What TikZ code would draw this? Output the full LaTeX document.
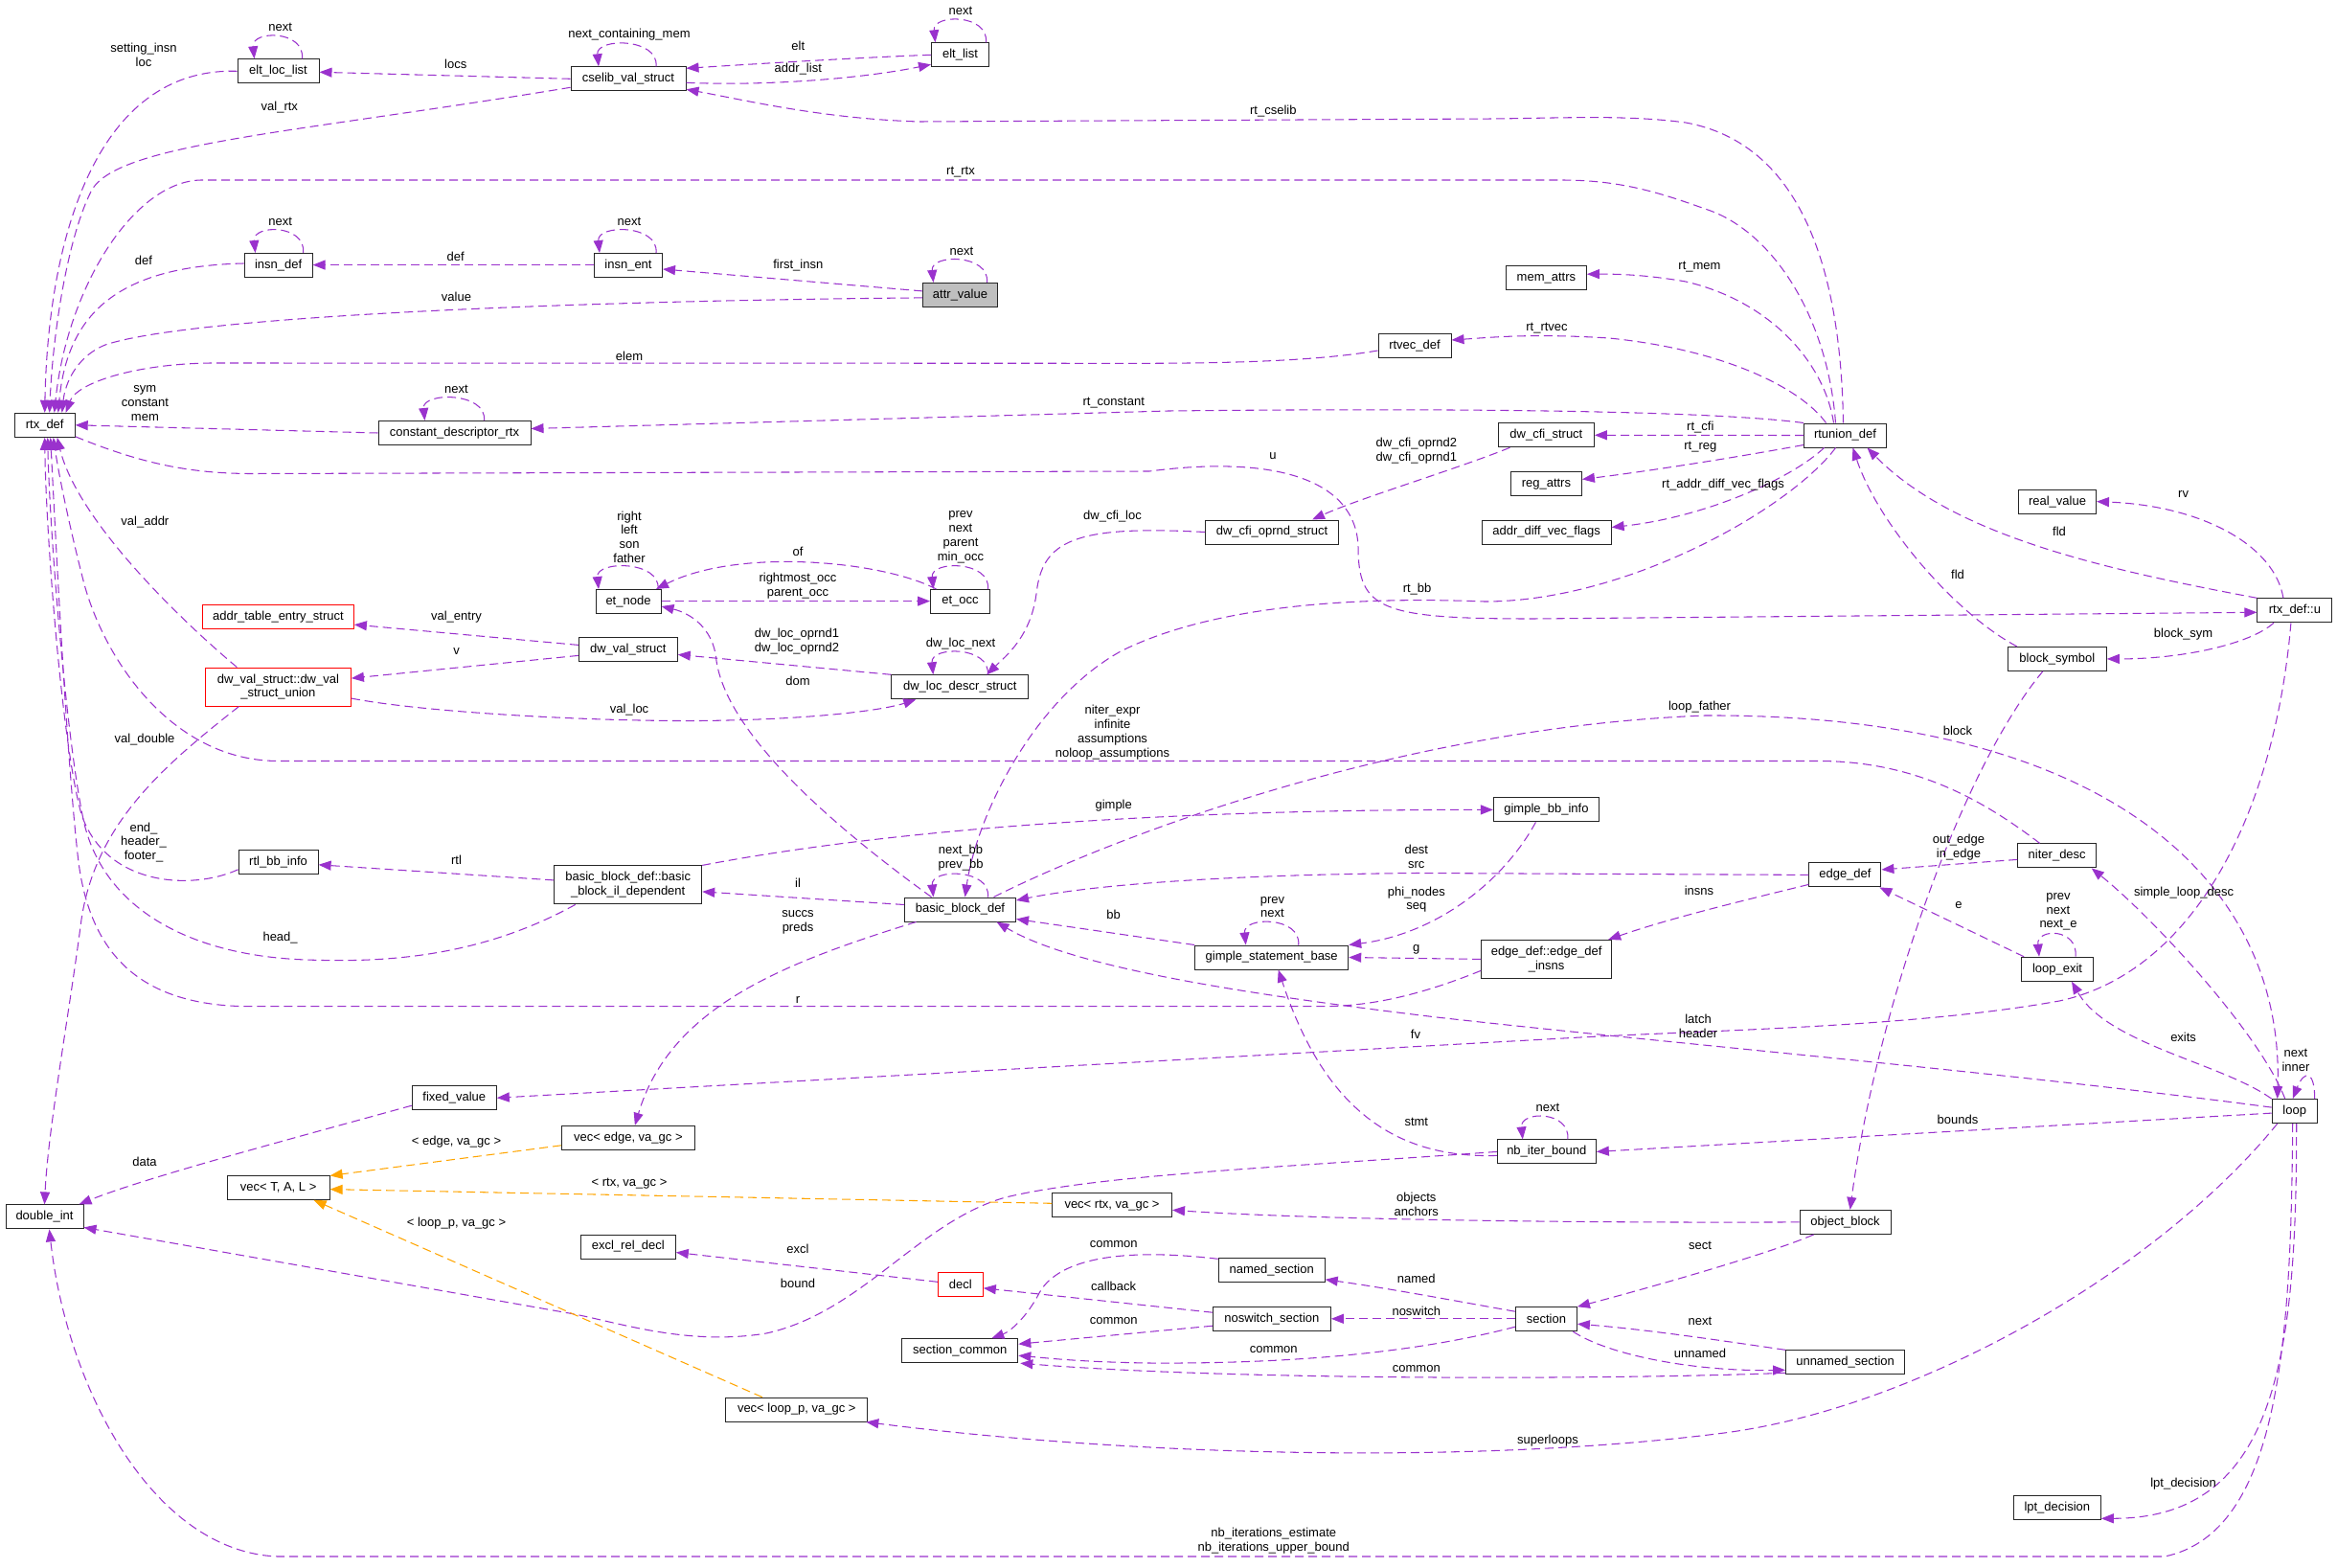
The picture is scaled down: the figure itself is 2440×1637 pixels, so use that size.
\documentclass[tikz,border=0pt]{standalone}
\usepackage{fontspec}
\setmainfont{Liberation Sans}
\usetikzlibrary{arrows.meta}
\definecolor{purp}{RGB}{154,50,205}
\definecolor{orng}{RGB}{255,165,0}
\definecolor{gfill}{RGB}{191,191,191}
\newcommand{\nf}{\fontsize{13}{14.8}\selectfont}
\tikzset{
 box/.style={draw=black!85, line width=1pt, fill=white, inner sep=0pt, minimum height=25pt, font=\nf},
 redbox/.style={box, draw=red},
 rel/.style={draw=purp, line width=1.05pt, dash pattern=on 9pt off 5pt, -{Triangle[length=13pt,width=10pt]}},
 tmpl/.style={rel, draw=orng},
 lbl/.style={inner sep=0pt, font=\nf, align=center},
}
\begin{document}
\begin{tikzpicture}[x=1pt,y=-1pt]
\path[use as bounding box, fill=white] (0,0) rectangle (2440,1637);
% nodes
\node[box,minimum width=63pt] (rtxdef) at (46.7,443.8) {rtx\_def};
\node[box,minimum width=85pt] (eltloclist) at (290.5,74.3) {elt\_loc\_list};
\node[box,minimum width=120pt] (cselib) at (656,82.3) {cselib\_val\_struct};
\node[box,minimum width=60pt] (eltlist) at (1002.5,57.3) {elt\_list};
\node[box,minimum width=71pt] (insndef) at (290.6,277) {insn\_def};
\node[box,minimum width=71pt] (insnent) at (656,277) {insn\_ent};
\node[box,minimum width=78pt,fill=gfill] (attrvalue) at (1002.5,307.9) {attr\_value};
\node[box,minimum width=84pt] (memattrs) at (1614.4,290.2) {mem\_attrs};
\node[box,minimum width=76pt] (rtvecdef) at (1477,361) {rtvec\_def};
\node[box,minimum width=159pt] (constdesc) at (474.5,452) {constant\_descriptor\_rtx};
\node[box,minimum width=100pt] (dwcfistruct) at (1614.4,454.3) {dw\_cfi\_struct};
\node[box,minimum width=74pt] (regattrs) at (1614.4,505.4) {reg\_attrs};
\node[box,minimum width=86pt] (rtunion) at (1926.5,454.5) {rtunion\_def};
\node[box,minimum width=81pt] (realvalue) at (2148,523.6) {real\_value};
\node[box,minimum width=139pt] (dwcfioprnd) at (1328,555.5) {dw\_cfi\_oprnd\_struct};
\node[box,minimum width=135pt] (addrdiff) at (1614.6,555.5) {addr\_diff\_vec\_flags};
\node[redbox,minimum width=158pt] (addrtable) at (290.4,644.1) {addr\_table\_entry\_struct};
\node[redbox,minimum width=152pt,minimum height=40pt,align=center] (dwvalunion) at (290.4,717.1) {dw\_val\_struct::dw\_val\\\_struct\_union};
\node[box,minimum width=68pt] (etnode) at (656,628) {et\_node};
\node[box,minimum width=62pt] (etocc) at (1002.5,628) {et\_occ};
\node[box,minimum width=103pt] (dwvalstruct) at (655.8,678.4) {dw\_val\_struct};
\node[box,minimum width=143pt] (dwloc) at (1002.3,717.3) {dw\_loc\_descr\_struct};
\node[box,minimum width=78pt] (rtxu) at (2395.9,637.3) {rtx\_def::u};
\node[box,minimum width=103pt] (blocksym) at (2147.8,687.9) {block\_symbol};
\node[box,minimum width=83pt] (rtlbb) at (290.6,899.8) {rtl\_bb\_info};
\node[box,minimum width=154pt,minimum height=40pt,align=center] (bbil) at (655.7,923.9) {basic\_block\_def::basic\\\_block\_il\_dependent};
\node[box,minimum width=116pt] (bbdef) at (1002.5,949.5) {basic\_block\_def};
\node[box,minimum width=110pt] (gimplebb) at (1614.4,845.4) {gimple\_bb\_info};
\node[box,minimum width=160pt] (gsb) at (1327.7,999.5) {gimple\_statement\_base};
\node[box,minimum width=136pt,minimum height=40pt,align=center] (edgeinsns) at (1614.6,1001.4) {edge\_def::edge\_def\\\_insns};
\node[box,minimum width=75pt] (edgedef) at (1926.4,913.4) {edge\_def};
\node[box,minimum width=82pt] (niterdesc) at (2147.7,893.4) {niter\_desc};
\node[box,minimum width=75pt] (loopexit) at (2148,1011.7) {loop\_exit};
\node[box,minimum width=88pt] (fixedvalue) at (474.3,1146.2) {fixed\_value};
\node[box,minimum width=107pt] (vectal) at (290.6,1239.9) {vec< T, A, L >};
\node[box,minimum width=81pt] (doubleint) at (46.5,1270.4) {double\_int};
\node[box,minimum width=139pt] (vecedge) at (655.9,1187.8) {vec< edge, va\_gc >};
\node[box,minimum width=125pt] (vecrtx) at (1161,1258.3) {vec< rtx, va\_gc >};
\node[box,minimum width=99pt] (excl) at (655.8,1301.5) {excl\_rel\_decl};
\node[redbox,minimum width=47pt] (decl) at (1002.8,1341.3) {decl};
\node[box,minimum width=121pt] (seccommon) at (1002.3,1410.2) {section\_common};
\node[box,minimum width=148pt] (veclooppp) at (831.8,1471.6) {vec< loop\_p, va\_gc >};
\node[box,minimum width=103pt] (nbiter) at (1614.8,1202.4) {nb\_iter\_bound};
\node[box,minimum width=111pt] (namedsec) at (1327.7,1326.3) {named\_section};
\node[box,minimum width=123pt] (noswitch) at (1327.9,1377.2) {noswitch\_section};
\node[box,minimum width=64pt] (section) at (1614.4,1377.2) {section};
\node[box,minimum width=47pt] (loop) at (2395.7,1160.1) {loop};
\node[box,minimum width=95pt] (objblock) at (1926.6,1275.9) {object\_block};
\node[box,minimum width=124pt] (unnamed) at (1926.6,1422.3) {unnamed\_section};
\node[box,minimum width=91pt] (lpt) at (2147.8,1574.3) {lpt\_decision};

% self loops
\draw[rel] ([xshift=25pt]eltloclist.north) .. controls +(3,-30) and +(-3,-30) .. ([xshift=-25pt]eltloclist.north);
\draw[rel] ([xshift=29pt]cselib.north) .. controls +(3,-30) and +(-3,-30) .. ([xshift=-31pt]cselib.north);
\draw[rel] ([xshift=27pt]eltlist.north) .. controls +(3,-30) and +(-3,-30) .. ([xshift=-26pt]eltlist.north);
\draw[rel] ([xshift=26pt]insndef.north) .. controls +(3,-30) and +(-3,-30) .. ([xshift=-24pt]insndef.north);
\draw[rel] ([xshift=29pt]insnent.north) .. controls +(3,-30) and +(-3,-30) .. ([xshift=-30pt]insnent.north);
\draw[rel] ([xshift=28pt]attrvalue.north) .. controls +(3,-30) and +(-3,-30) .. ([xshift=-28pt]attrvalue.north);
\draw[rel] ([xshift=31pt]constdesc.north) .. controls +(3,-30) and +(-3,-30) .. ([xshift=-31pt]constdesc.north);
\draw[rel] ([xshift=31pt]etnode.north) .. controls +(3,-30) and +(-3,-30) .. ([xshift=-31pt]etnode.north);
\draw[rel] ([xshift=29pt]etocc.north) .. controls +(3,-30) and +(-3,-30) .. ([xshift=-28pt]etocc.north);
\draw[rel] ([xshift=29pt]dwloc.north) .. controls +(3,-30) and +(-3,-30) .. ([xshift=-28pt]dwloc.north);
\draw[rel] ([xshift=29pt]bbdef.north) .. controls +(3,-30) and +(-3,-30) .. ([xshift=-28pt]bbdef.north);
\draw[rel] ([xshift=28pt]gsb.north) .. controls +(3,-30) and +(-3,-30) .. ([xshift=-27pt]gsb.north);
\draw[rel] ([xshift=22pt]nbiter.north) .. controls +(3,-30) and +(-3,-30) .. ([xshift=-25pt]nbiter.north);
\draw[rel] ([xshift=19pt]loopexit.north) .. controls +(3,-30) and +(-3,-30) .. ([xshift=-19pt]loopexit.north);
\draw[rel] ([xshift=21pt]loop.north) .. controls +(0,-30) and +(12,-30) .. ([xshift=-2pt]loop.north);

% edges into rtx_def top
\draw[rel] (eltloclist.west) .. controls (100,70) and (50,250) .. ([xshift=0pt]rtxdef.north);
\draw[rel] ([yshift=-9pt]cselib.west) .. controls (300,140) and (120,150) .. (95,200) .. controls (70,250) and (55,350) .. ([xshift=5pt]rtxdef.north);
\draw[rel] ([xshift=-10pt]rtunion.north) .. controls (1908,330) and (1850,240) .. (1780,218) .. controls (1730,200) and (1690,188) .. (1630,188) -- (210,188) .. controls (140,189) and (70,300) .. ([xshift=10pt]rtxdef.north);
\draw[rel] ([yshift=2pt]insndef.west) .. controls (120,278) and (70,330) .. ([xshift=14pt]rtxdef.north);
\draw[rel] ([yshift=-3pt]attrvalue.west) .. controls (600,314) and (200,330) .. (110,360) .. controls (80,372) and (68,400) .. ([xshift=18pt]rtxdef.north);
\draw[rel] ([yshift=-5pt]rtvecdef.west) .. controls (1380,376) and (1300,379) .. (1200,379.3) -- (220,379) .. controls (140,380) and (80,400) .. ([xshift=22pt]rtxdef.north);
\draw[rel] (constdesc.west) -- (rtxdef.east);

% edges into rtx_def bottom
\draw[rel] ([yshift=-8pt]rtlbb.west) .. controls (200,930) and (110,925) .. (85,850) .. controls (65,780) and (48,560) .. (rtxdef.south);
\draw[rel] ([xshift=-55pt]bbil.south) .. controls (500,1000) and (400,1005) .. (320,1002) .. controls (200,998) and (110,950) .. (88,860) .. controls (70,780) and (52,560) .. ([xshift=3pt]rtxdef.south);
\draw[rel] ([yshift=-12pt]edgeinsns.west) .. controls (1480,1040) and (1430,1050.5) .. (1380,1050.7) -- (260,1050.7) .. controls (150,1050) and (95,1000) .. (82,900) .. controls (70,800) and (58,560) .. ([xshift=6pt]rtxdef.south);
\draw[rel] ([xshift=-18pt]niterdesc.north) .. controls (2070,835) and (2000,795) .. (1900,794.5) -- (290,794.5) .. controls (180,794) and (110,690) .. (88,610) .. controls (75,560) and (62,500) .. ([xshift=9pt]rtxdef.south);
\draw[rel] ([xshift=-43pt]dwvalunion.north) .. controls (180,640) and (80,540) .. ([xshift=13pt]rtxdef.south);
\draw[rel] ([yshift=-12pt]rtxdef.east) .. controls (150,485) and (200,494) .. (260,494.5) -- (1200,492) .. controls (1330,475) and (1415,500) .. (1418,570) .. controls (1418,636) and (1440,646) .. (1600,646) -- ([yshift=-2pt]rtxu.west);

% cselib area
\draw[rel] (cselib.west) -- ([yshift=-1pt]eltloclist.east);
\draw[rel] (eltlist.west) .. controls (900,60) and (800,66) .. ([yshift=11pt]cselib.east);
\draw[rel] ([yshift=-4pt]cselib.east) .. controls (800,90) and (900,82) .. ([yshift=-10pt]eltlist.west);
\draw[rel] ([xshift=-2pt]rtunion.north) .. controls (1922,280) and (1880,150) .. (1760,128) .. controls (1700,120) and (1640,123) .. (1560,124) -- (960,127) .. controls (860,124) and (780,105) .. ([yshift=-11pt]cselib.east);

% insn
\draw[rel] ([yshift=4pt]attrvalue.west) -- ([yshift=-4pt]insnent.east);
\draw[rel] ([yshift=0.4pt]insnent.west) -- ([yshift=0.4pt]insndef.east);

% rtunion fan
\draw[rel] ([xshift=-12pt]rtunion.north) .. controls (1905,380) and (1850,315) .. (1760,294) .. controls (1720,287) and (1690,286) .. ([yshift=4pt]memattrs.east);
\draw[rel] ([xshift=-20pt]rtunion.north) .. controls (1880,405) and (1800,365) .. (1680,353) .. controls (1600,348) and (1560,352) .. ([yshift=6pt]rtvecdef.east);
\draw[rel] (rtunion.north west) .. controls (1780,428) and (1500,426) .. (1220,429) -- ([yshift=4.5pt]constdesc.east);
\draw[rel] (rtunion.west) -- (dwcfistruct.east);
\draw[rel] ([yshift=-10pt]rtunion.west) .. controls (1810,478) and (1720,492) .. ([yshift=5pt]regattrs.east);
\draw[rel] ([xshift=-22pt]rtunion.south) .. controls (1870,500) and (1780,540) .. ([yshift=5pt]addrdiff.east);
\draw[rel] ([xshift=-10pt]rtunion.south) .. controls (1870,530) and (1700,628) .. (1550,628) .. controls (1400,622) and (1260,635) .. (1170,680) .. controls (1080,730) and (1020,850) .. ([xshift=5pt]bbdef.north);
\draw[rel] ([xshift=-38pt]dwcfistruct.south) .. controls (1520,490) and (1420,520) .. ([xshift=42pt]dwcfioprnd.north);
\draw[rel] (dwcfioprnd.west) .. controls (1120,548) and (1088,565) .. (1082,620) .. controls (1076,665) and (1050,685) .. ([xshift=28pt]dwloc.north);

% rtx_def::u
\draw[rel] ([xshift=-12pt]rtxu.north) .. controls (2375,570) and (2300,528) .. (realvalue.east);
\draw[rel] (rtxu.north west) .. controls (2200,595) and (2040,560) .. ([xshift=23pt]rtunion.south);
\draw[rel] ([xshift=-42pt]blocksym.north) .. controls (2040,640) and (1960,545) .. ([xshift=8pt]rtunion.south);
\draw[rel] ([xshift=-22pt]rtxu.south) .. controls (2350,672) and (2280,688) .. (blocksym.east);
\draw[rel] ([xshift=-4pt]rtxu.south) .. controls (2375,850) and (2290,1015) .. (2150,1045) .. controls (2000,1072) and (1800,1075) .. (1650,1083) -- (fixedvalue.east);
\draw[rel] ([xshift=-15pt]blocksym.south) .. controls (2050,800) and (1960,1050) .. ([xshift=5pt]objblock.north);

% dw_val
\draw[rel] (dwloc.north west) -- ([yshift=-5pt]dwvalstruct.east);
\draw[rel] ([yshift=-12pt]dwvalunion.east) .. controls (450,745) and (650,755) .. (760,752) .. controls (850,750) and (920,742) .. ([xshift=-46pt]dwloc.south);
\draw[rel] ([yshift=-6pt]dwvalstruct.west) -- ([yshift=9pt]dwvalunion.east);
\draw[rel] ([yshift=5pt]dwvalstruct.west) -- ([yshift=-8pt]addrtable.east);
\draw[rel] ([xshift=-41pt]dwvalunion.south) .. controls (170,800) and (100,860) .. (85,960) .. controls (72,1060) and (50,1180) .. (doubleint.north);

% et
\draw[rel] ([xshift=-30pt]bbdef.north) .. controls (880,870) and (760,770) .. (748,690) .. controls (745,655) and (720,640) .. ([yshift=-5pt]etnode.east);
\draw[rel] ([yshift=0.4pt]etnode.east) -- ([yshift=0.4pt]etocc.west);
\draw[rel] ([xshift=-25pt]etocc.north) .. controls (920,585) and (770,572) .. ([xshift=29pt]etnode.north);

% basic block
\draw[rel] ([xshift=35pt]bbdef.north) .. controls (1150,880) and (1450,760) .. (1780,747) .. controls (2200,745) and (2385,920) .. ([xshift=-18pt]loop.north);
\draw[rel] ([xshift=-10pt]loop.north) .. controls (2360,1080) and (2250,960) .. ([xshift=36pt]niterdesc.south);
\draw[rel] (loop.north west) .. controls (2320,1110) and (2200,1090) .. ([xshift=15pt]loopexit.south);
\draw[rel] ([yshift=-4pt]niterdesc.west) -- ([yshift=5.5pt]edgedef.east);
\draw[rel] ([xshift=-35pt]loopexit.north) -- ([xshift=36pt]edgedef.south);
\draw[rel] (edgedef.west) -- (1480,911.5) .. controls (1300,913) and (1150,922) .. ([yshift=9.5pt]bbdef.east);
\draw[rel] ([yshift=-10pt]edgedef.west) .. controls (1800,945) and (1740,960) .. ([xshift=-4pt]edgeinsns.north east);
\draw[rel] (edgeinsns.west) -- (gsb.east);
\draw[rel] ([xshift=-11pt]gimplebb.south) .. controls (1570,920) and (1500,975) .. (gsb.north east);
\draw[rel] (gsb.north west) -- ([yshift=-10pt]bbdef.east);
\draw[rel] (bbil.north east) .. controls (950,862) and (1250,845) .. (gimplebb.west);
\draw[rel] ([yshift=5pt]bbdef.west) -- ([yshift=-7pt]bbil.east);
\draw[rel] ([yshift=5pt]bbil.west) -- ([yshift=-3pt]rtlbb.east);
\draw[rel] ([xshift=-46pt]bbdef.south) .. controls (820,1005) and (700,1050) .. ([xshift=7pt]vecedge.north);
\draw[rel] ([yshift=4pt]loop.west) .. controls (2100,1120) and (1750,1090) .. (1500,1062) .. controls (1300,1038) and (1120,1010) .. ([xshift=38pt]bbdef.south);

% loop bottom
\draw[rel] ([yshift=-2pt]loop.west) -- (nbiter.east);
\draw[rel] ([yshift=-4pt]nbiter.west) .. controls (1450,1210) and (1380,1150) .. ([xshift=7pt]gsb.south);
\draw[rel] (nbiter.west) .. controls (1350,1218) and (1150,1226) .. (1050,1250) .. controls (960,1275) and (900,1370) .. (800,1392) .. controls (720,1405) and (650,1382) .. (600,1372) -- ([yshift=-11pt]doubleint.east);
\draw[rel] ([yshift=-8pt]fixedvalue.west) .. controls (300,1190) and (150,1230) .. ([xshift=36pt]doubleint.north);
\draw[rel] ([xshift=-2pt]loop.south) .. controls (2392,1400) and (2380,1600) .. (2260,1625) -- (290,1625) .. controls (160,1620) and (70,1450) .. ([xshift=5pt]doubleint.south);
\draw[rel] ([xshift=2pt]loop.south) .. controls (2398,1420) and (2375,1585) .. ([yshift=-11pt]lpt.east);
\draw[rel] ([xshift=-18pt]loop.south) .. controls (2250,1330) and (2000,1470) .. (1800,1496) .. controls (1550,1528) and (1200,1522) .. ([xshift=-2pt]veclooppp.south east);

% templates
\draw[tmpl] ([yshift=-8pt]vecedge.west) -- ([yshift=12.5pt]vectal.east);
\draw[tmpl] ([yshift=2pt]vecrtx.west) -- ([yshift=-1.7pt]vectal.east);
\draw[tmpl] ([xshift=-36pt]veclooppp.north) -- ([xshift=37pt]vectal.south);

% sections
\draw[rel] ([xshift=-33pt]objblock.south) .. controls (1850,1308) and (1720,1345) .. (section.north east);
\draw[rel] (objblock.west) .. controls (1600,1277) and (1350,1272) .. ([yshift=-5pt]vecrtx.east);
\draw[rel] ([yshift=8pt]section.west) .. controls (1530,1360) and (1450,1345) .. ([yshift=-9.5pt]namedsec.east);
\draw[rel] ([yshift=0.4pt]section.west) -- ([yshift=0.4pt]noswitch.east);
\draw[rel] (unnamed.north west) .. controls (1800,1400) and (1720,1388) .. ([yshift=-5pt]section.east);
\draw[rel] ([xshift=28pt]section.south) .. controls (1680,1415) and (1770,1432) .. ([yshift=-8pt]unnamed.west);
\draw[rel] ([yshift=-8pt]section.west) .. controls (1480,1412) and (1350,1424) .. (1200,1423) .. controls (1130,1422) and (1095,1418) .. ([yshift=-5pt]seccommon.east);
\draw[rel] ([yshift=-11pt]unnamed.west) .. controls (1700,1440) and (1300,1442) .. ([xshift=2pt]seccommon.south east);
\draw[rel] ([yshift=-7pt]noswitch.west) -- ([yshift=7pt]seccommon.east);
\draw[rel] ([yshift=7pt]noswitch.west) -- ([yshift=-3.5pt]decl.east);
\draw[rel] ([yshift=12pt]namedsec.west) .. controls (1150,1300) and (1100,1322) .. (1085,1350) .. controls (1072,1375) and (1055,1390) .. ([xshift=33pt]seccommon.north);
\draw[rel] ([yshift=3pt]decl.west) -- ([yshift=-6pt]excl.east);

% labels
\node[lbl] (l1) at (150,57) {setting\_insn\\loc};
\node[lbl] (l2) at (292.6,28.6) {next};
\node[lbl] (l3) at (475.7,67) {locs};
\node[lbl] (l4) at (291.8,112.5) {val\_rtx};
\node[lbl] (l5) at (657,36.4) {next\_containing\_mem};
\node[lbl] (l6) at (833.3,48.2) {elt};
\node[lbl] (l7) at (833.3,72.5) {addr\_list};
\node[lbl] (l8) at (1003,11.8) {next};
\node[lbl] (l9) at (1329.3,116) {rt\_cselib};
\node[lbl] (l10) at (1003,179.6) {rt\_rtx};
\node[lbl] (l11) at (292.6,231.4) {next};
\node[lbl] (l12) at (657,231.4) {next};
\node[lbl] (l13) at (150,271.4) {def};
\node[lbl] (l14) at (475.7,267.9) {def};
\node[lbl] (l15) at (833.3,276.8) {first\_insn};
\node[lbl] (l16) at (1004,262.5) {next};
\node[lbl] (l17) at (476.5,310) {value};
\node[lbl] (l18) at (1774.5,278.6) {rt\_mem};
\node[lbl] (l19) at (1615,343) {rt\_rtvec};
\node[lbl] (l20) at (657,371.4) {elem};
\node[lbl] (l21) at (151.4,421) {sym\\constant\\mem};
\node[lbl] (l22) at (476.5,406.4) {next};
\node[lbl] (l23) at (1162.7,420.7) {rt\_constant};
\node[lbl] (l24) at (1775.3,446.4) {rt\_cfi};
\node[lbl] (l25) at (1775.3,466.8) {rt\_reg};
\node[lbl] (l26) at (1478.8,471) {dw\_cfi\_oprnd2\\dw\_cfi\_oprnd1};
\node[lbl] (l27) at (1329,476) {u};
\node[lbl] (l28) at (1799,506) {rt\_addr\_diff\_vec\_flags};
\node[lbl] (l29) at (2279.6,516) {rv};
\node[lbl] (l30) at (1161.5,539) {dw\_cfi\_loc};
\node[lbl] (l31) at (2150,555) {fld};
\node[lbl] (l32) at (657,560.7) {right\\left\\son\\father};
\node[lbl] (l33) at (1003,560.7) {prev\\next\\parent\\min\_occ};
\node[lbl] (l34) at (833,575.7) {of};
\node[lbl] (l35) at (833,611.8) {rightmost\_occ\\parent\_occ};
\node[lbl] (l36) at (2044,600) {fld};
\node[lbl] (l37) at (1479.6,615) {rt\_bb};
\node[lbl] (l38) at (151.4,544.6) {val\_addr};
\node[lbl] (l39) at (476.5,644.6) {val\_entry};
\node[lbl] (l40) at (2279.6,662.5) {block\_sym};
\node[lbl] (l41) at (832,669.7) {dw\_loc\_oprnd1\\dw\_loc\_oprnd2};
\node[lbl] (l42) at (1003,672) {dw\_loc\_next};
\node[lbl] (l43) at (476.5,680.4) {v};
\node[lbl] (l44) at (833,710.7) {dom};
\node[lbl] (l45) at (657,740.7) {val\_loc};
\node[lbl] (l46) at (1774.5,738) {loop\_father};
\node[lbl] (l47) at (1161.5,764.6) {niter\_expr\\infinite\\assumptions\\noloop\_assumptions};
\node[lbl] (l48) at (2044,763) {block};
\node[lbl] (l49) at (151,772.5) {val\_double};
\node[lbl] (l50) at (1162.7,841) {gimple};
\node[lbl] (l51) at (150,879.4) {end\_\\header\_\\footer\_};
\node[lbl] (l52) at (2045,884.3) {out\_edge\\in\_edge};
\node[lbl] (l53) at (1003,895.5) {next\_bb\\prev\_bb};
\node[lbl] (l54) at (476.5,898) {rtl};
\node[lbl] (l55) at (1478.8,894.5) {dest\\src};
\node[lbl] (l56) at (833,922) {il};
\node[lbl] (l57) at (1774,930) {insns};
\node[lbl] (l58) at (1478.8,939.2) {phi\_nodes\\seq};
\node[lbl] (l59) at (2280,932) {simple\_loop\_desc};
\node[lbl] (l60) at (2045,944.6) {e};
\node[lbl] (l61) at (1328.5,947) {prev\\next};
\node[lbl] (l62) at (1162.7,955) {bb};
\node[lbl] (l63) at (2149,951.8) {prev\\next\\next\_e};
\node[lbl] (l64) at (833,962.5) {succs\\preds};
\node[lbl] (l65) at (292.6,978.6) {head\_};
\node[lbl] (l66) at (1478.8,991.8) {g};
\node[lbl] (l67) at (833,1043.6) {r};
\node[lbl] (l68) at (1773,1071) {latch\\header};
\node[lbl] (l69) at (1478,1080) {fv};
\node[lbl] (l70) at (2279.6,1083) {exits};
\node[lbl] (l71) at (2397,1107) {next\\inner};
\node[lbl] (l72) at (1616,1156.4) {next};
\node[lbl] (l73) at (2044,1169) {bounds};
\node[lbl] (l74) at (1478.8,1171.7) {stmt};
\node[lbl] (l75) at (476.5,1192) {< edge, va\_gc >};
\node[lbl] (l76) at (151,1212.5) {data};
\node[lbl] (l77) at (657,1236) {< rtx, va\_gc >};
\node[lbl] (l78) at (1478.8,1257.6) {objects\\anchors};
\node[lbl] (l79) at (476.5,1277) {< loop\_p, va\_gc >};
\node[lbl] (l80) at (1162.7,1298.8) {common};
\node[lbl] (l81) at (1775,1300.6) {sect};
\node[lbl] (l82) at (833,1303.8) {excl};
\node[lbl] (l83) at (1478.8,1334.4) {named};
\node[lbl] (l84) at (833,1340) {bound};
\node[lbl] (l85) at (1162.7,1343) {callback};
\node[lbl] (l86) at (1478.8,1368.5) {noswitch};
\node[lbl] (l87) at (1162.7,1379.5) {common};
\node[lbl] (l88) at (1775,1379.5) {next};
\node[lbl] (l89) at (1329.7,1408.6) {common};
\node[lbl] (l90) at (1775,1412.9) {unnamed};
\node[lbl] (l91) at (1478.8,1428.8) {common};
\node[lbl] (l92) at (1616,1504.5) {superloops};
\node[lbl] (l93) at (2279.6,1549) {lpt\_decision};
\node[lbl] (l94) at (1329.7,1609) {nb\_iterations\_estimate\\nb\_iterations\_upper\_bound};
\end{tikzpicture}
\end{document}
